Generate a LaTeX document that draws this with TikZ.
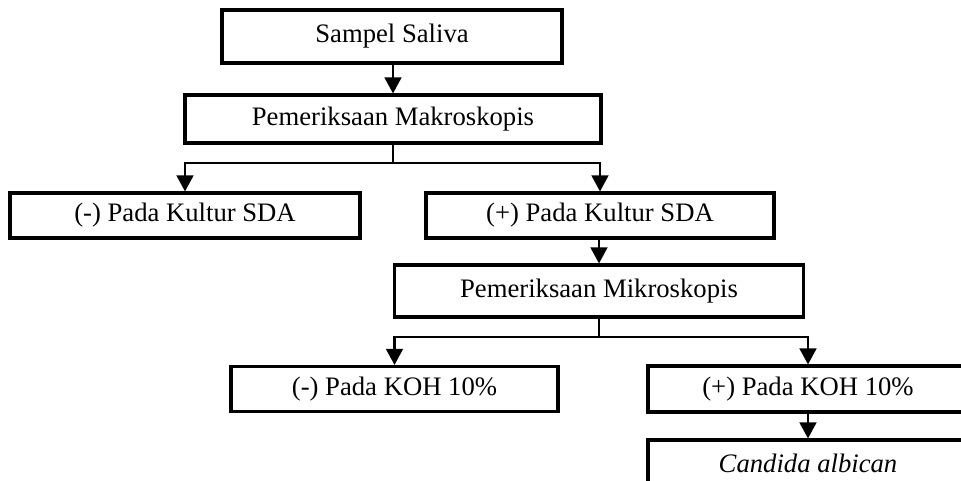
\documentclass[tikz,border=0pt]{standalone}
\usepackage{fontspec}
\setmainfont{Liberation Serif}
\usetikzlibrary{arrows.meta}

\begin{document}
\begin{tikzpicture}[x=0.75pt,y=-0.75pt,
        box/.style={draw,line width=2.3pt,inner sep=0pt,font=\fontsize{20}{24}\selectfont},
        link/.style={line width=1.8pt},
        arr/.style={link,-{Triangle[length=12pt,width=12.5pt]}}]
        \useasboundingbox (0,0) rectangle (961,481);
        \clip (0,0) rectangle (961,481);

        % top part
        \node[box,minimum width=340*0.75pt,minimum height=53*0.75pt] (sampel) at (392,36.5) {Sampel Saliva};
        \node[box,minimum width=416*0.75pt,minimum height=48*0.75pt] (makro) at (393,119) {Pemeriksaan Makroskopis};
        \draw[arr] (sampel.south -| makro.north) -- (makro.north);

        % kultur SDA
        \node[box,minimum width=350*0.75pt,minimum height=45*0.75pt] (negsda) at (185,215.5) {(-) Pada Kultur SDA};
        \node[box,minimum width=348*0.75pt,minimum height=45*0.75pt] (possda) at (600,215.5) {(+) Pada Kultur SDA};
        \coordinate (split1) at (393,163);
        \draw[link] (makro.south) -- (split1);
        \draw[arr] (split1) -| (negsda.north);
        \draw[arr] (split1) -| (possda.north);

        % mikroskopis
        \node[box,minimum width=409*0.75pt,minimum height=52*0.75pt] (mikro) at (599,291) {Pemeriksaan Mikroskopis};
        \draw[arr] (possda.south -| mikro.north) -- (mikro.north);

        % KOH 10%
        \node[box,minimum width=327*0.75pt,minimum height=45*0.75pt] (negkoh) at (394.5,389) {(-) Pada KOH 10\%};
        \node[box,minimum width=320*0.75pt,minimum height=46*0.75pt] (poskoh) at (808,389) {(+) Pada KOH 10\%};
        \coordinate (split2) at (599,337);
        \draw[link] (mikro.south) -- (split2);
        \draw[arr] (split2) -| (negkoh.north);
        \draw[arr] (split2) -| (poskoh.north);

        % hasil
        \node[box,minimum width=320*0.75pt,minimum height=46*0.75pt] (candida) at (808,463) {\itshape Candida albican};
        \draw[arr] (poskoh.south) -- (candida.north);
    \end{tikzpicture}
\end{document}
